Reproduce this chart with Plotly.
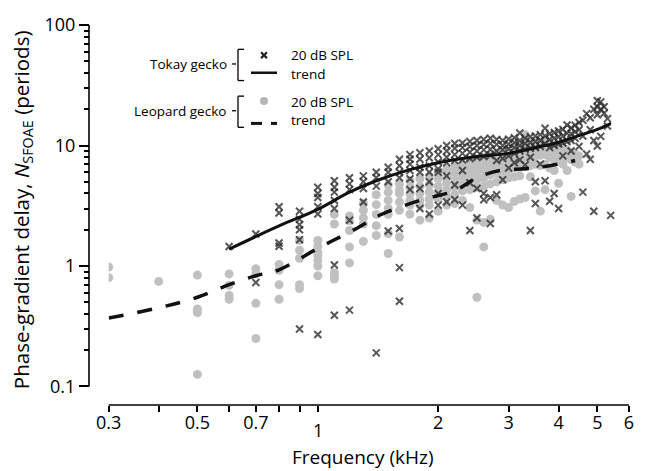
import numpy as np
import plotly.graph_objects as go

# ---------------- data ----------------
tokay_freq = [0.6, 0.7, 0.8, 0.9, 1.0, 1.1, 1.2, 1.3, 1.4, 1.5, 1.6, 1.7, 1.8, 1.9,
              2.0, 2.1, 2.2, 2.3, 2.4, 2.5, 2.6, 2.7, 2.8, 2.9, 3.0, 3.1, 3.2, 3.3,
              3.4, 3.5, 3.6, 3.7, 3.8, 3.9, 4.0, 4.1, 4.2, 4.3, 4.4, 4.5, 4.6, 4.7,
              4.8, 4.9, 5.0, 5.1, 5.2, 5.3, 5.4]
tokay_n = [
    [1.45], [1.84, 0.73], [3.1, 2.75, 1.55, 1.46], [2.85, 2.45, 2.2, 2.0, 1.65, 0.30],
    [4.5, 4.0, 3.7, 3.1, 2.7, 0.27], [5.1, 4.5, 4.1, 3.5, 3.0, 1.02, 0.39],
    [5.4, 4.8, 4.3, 2.4, 0.43], [5.6, 5.0, 4.4, 3.4], [6.0, 5.4, 4.6, 0.19],
    [6.6, 6.0, 5.0, 1.95], [7.7, 6.8, 6.0, 5.4, 2.05, 0.97, 0.51],
    [8.4, 7.7, 7.0, 6.2, 5.3, 4.3], [8.7, 7.7, 6.6, 6.0, 4.4, 3.0],
    [9.0, 7.9, 6.8, 6.0, 5.0, 2.7], [9.4, 8.4, 7.3, 6.4, 6.0, 4.0, 3.2],
    [10.0, 9.0, 8.0, 7.2, 5.6, 3.4], [10.4, 9.5, 8.4, 7.5, 4.7, 3.55],
    [10.5, 9.6, 8.6, 7.6, 6.2, 3.2], [10.8, 9.8, 8.8, 7.8, 4.9, 1.97],
    [11.0, 10.0, 9.0, 8.0, 4.4, 2.5], [11.2, 10.2, 9.2, 8.1, 4.0, 3.55],
    [11.5, 10.4, 9.3, 8.3, 3.7, 2.25], [11.2, 10.2, 9.0, 7.5, 3.9],
    [11.0, 10.0, 9.2, 7.8, 5.2], [11.3, 10.3, 9.4, 8.2, 6.5],
    [11.6, 10.6, 9.6, 8.6, 7.2], [12.7, 11.0, 10.0, 9.0, 7.6],
    [11.5, 10.4, 9.3, 6.9], [11.8, 10.6, 9.5, 8.0, 1.97], [12.0, 10.8, 9.6, 5.0, 3.3],
    [12.3, 11.0, 9.8, 7.0], [13.9, 12.0, 10.4, 5.1], [12.5, 11.2, 9.6, 3.45],
    [12.8, 11.5, 10.0, 4.0], [13.2, 11.8, 10.3, 3.0], [13.6, 12.0, 10.5, 8.2],
    [14.8, 12.6, 10.8], [14.0, 12.5, 11.0, 9.0], [14.7, 13.0, 11.5],
    [15.5, 13.5, 9.8], [16.2, 12.0, 4.1], [18.4, 8.5], [17.0, 13.5, 7.7],
    [20.0, 11.0, 2.85], [23.5, 21.0, 18.0, 9.9], [23.0, 20.0, 11.9],
    [21.0, 18.5], [16.7, 14.5], [2.63]]

leopard_freq = [0.3, 0.4, 0.5, 0.6, 0.7, 0.8, 0.9, 1.0, 1.1, 1.2, 1.3, 1.4, 1.5, 1.6,
                1.7, 1.8, 1.9, 2.0, 2.1, 2.2, 2.3, 2.4, 2.5, 2.6, 2.7, 2.8, 2.9, 3.0,
                3.1, 3.2, 3.3, 3.4, 3.5, 3.6, 3.7, 3.8, 3.9, 4.0, 4.1, 4.2, 4.3, 4.4, 4.5]
leopard_n = [
    [0.98, 0.80], [0.745], [0.84, 0.44, 0.41, 0.126], [0.86, 0.69, 0.57, 0.53],
    [0.95, 0.86, 0.49, 0.25], [1.03, 0.92, 0.70, 0.53], [1.63, 1.35, 1.16, 0.70, 0.65],
    [1.63, 1.45, 1.3, 1.23, 1.12, 1.0, 0.83], [2.68, 2.23, 0.88, 0.83, 0.78],
    [2.6, 2.37, 1.97, 1.44, 1.06], [3.3, 2.9, 2.5, 2.23, 1.6],
    [3.9, 3.23, 2.68, 2.16, 1.79], [4.7, 4.1, 3.5, 3.0, 2.68, 1.85, 1.27],
    [4.8, 4.3, 4.0, 3.4, 2.9, 1.74], [5.1, 4.5, 4.0, 3.5, 3.2, 2.7],
    [5.3, 4.6, 4.0, 3.5, 3.2, 2.4], [5.6, 4.7, 4.1, 3.6, 3.2, 2.5],
    [6.0, 5.3, 4.6, 4.0, 3.65, 2.85], [6.3, 5.6, 4.9, 4.3, 3.8, 3.2],
    [6.6, 5.9, 5.2, 4.5, 3.9, 3.3], [7.0, 6.2, 5.5, 4.8, 4.2, 3.5],
    [7.3, 6.5, 5.7, 5.0, 4.3, 3.06], [7.6, 6.8, 6.0, 5.2, 4.5, 2.4, 0.55],
    [8.0, 7.2, 6.3, 5.4, 4.6, 2.3, 1.44], [8.3, 7.5, 6.6, 5.7, 4.8, 2.44],
    [8.6, 7.8, 6.8, 5.9, 5.0, 3.5], [9.0, 8.0, 7.0, 6.1, 5.2, 3.2],
    [9.3, 8.3, 7.3, 6.3, 5.4, 3.06], [9.6, 8.6, 7.5, 6.5, 5.5, 3.43],
    [10.0, 8.8, 7.7, 6.6, 5.6, 3.6], [12.3, 10.2, 9.0, 7.8, 6.7, 3.7],
    [10.5, 9.2, 8.0, 6.8, 5.5], [10.7, 9.4, 8.2, 7.0, 4.2], [10.8, 9.5, 8.3, 6.8, 2.85],
    [11.0, 9.6, 8.4, 7.0, 4.3], [10.4, 9.2, 8.0, 6.5], [10.0, 8.8, 7.6, 6.2],
    [9.8, 8.6, 7.4, 4.86], [9.5, 8.3, 7.0], [9.2, 8.0, 6.2], [8.8, 7.6, 3.78],
    [8.5, 7.3], [8.2, 7.0]]

tokay_trend_f = [0.6, 0.8, 1.0, 1.2, 1.4, 1.7, 2.0, 2.5, 3.0, 3.6, 4.0, 4.4, 5.0, 5.4]
tokay_trend_n = [1.38, 2.15, 2.95, 4.1, 5.1, 6.3, 7.2, 8.1, 8.6, 9.8, 10.6, 11.8, 13.6, 15.2]
leopard_trend_f = [0.3, 0.4, 0.5, 0.6, 0.7, 0.8, 1.0, 1.25, 1.45, 1.8, 2.0, 2.2, 2.5,
                   2.85, 3.3, 3.8, 4.4]
leopard_trend_n = [0.37, 0.45, 0.55, 0.70, 0.83, 0.93, 1.4, 2.05, 2.7, 3.5, 3.85, 4.2,
                   5.4, 6.2, 6.4, 6.8, 7.5]

x_tickvals = [0.3, 0.5, 0.7, 2, 3, 4, 5, 6]
x_ticktext = ["0.3", "0.5", "0.7", "2", "3", "4", "5", "6"]
x_minor = [0.4, 0.6, 0.8, 0.9, 1]
y_tickvals = [0.1, 1, 10, 100]
y_ticktext = ["0.1", "1", "10", "100"]
y_minor = [m * d for d in (0.1, 1, 10) for m in range(2, 10)]

# ---------------- figure ----------------
FONT = "Open Sans"
W, H = 651, 471
L, R, T, B = 89, 22, 15, 66


def px2x(px):
    return (px - L) / (W - L - R)


def py2y(py):
    return (H - B - py) / (H - T - B)


tf = [f for f, col in zip(tokay_freq, tokay_n) for _ in col]
tn = [v for col in tokay_n for v in col]
lf = [f for f, col in zip(leopard_freq, leopard_n) for _ in col]
ln = [v for col in leopard_n for v in col]

fig = go.Figure()
fig.add_trace(go.Scatter(x=lf, y=ln, mode="markers",
                         marker=dict(symbol="circle", size=9, color="#c0c0c0"),
                         showlegend=False))
fig.add_trace(go.Scatter(x=tf, y=tn, mode="markers",
                         marker=dict(symbol="x-thin", size=7,
                                     line=dict(width=2, color="rgba(45,45,45,0.8)")),
                         showlegend=False))
fig.add_trace(go.Scatter(x=tokay_trend_f, y=tokay_trend_n, mode="lines",
                         line=dict(color="#111", width=3, shape="spline"),
                         showlegend=False))
fig.add_trace(go.Scatter(x=leopard_trend_f, y=leopard_trend_n, mode="lines",
                         line=dict(color="#111", width=3.5, shape="spline",
                                   dash="15px,14px"),
                         showlegend=False))

axis_common = dict(type="log", showgrid=False, zeroline=False, showline=False,
                   ticks="outside", tickcolor="black", tickwidth=1.5,
                   tickfont=dict(family=FONT, size=18, color="black"))
fig.update_layout(
    width=W, height=H,
    margin=dict(l=L, r=R, t=T, b=B),
    paper_bgcolor="white", plot_bgcolor="white",
    xaxis=dict(**axis_common, range=[np.log10(0.3), np.log10(6)],
               domain=[px2x(108.7), 1], anchor="free", position=0,
               tickvals=x_tickvals, ticktext=x_ticktext, ticklen=6,
               ticklabelstandoff=-5,
               minor=dict(ticks="outside", ticklen=6, tickvals=x_minor,
                          tickcolor="black", tickwidth=1.5)),
    yaxis=dict(**axis_common, range=[-1, 2], domain=[py2y(386), 1],
               anchor="free", position=0,
               tickvals=y_tickvals, ticktext=y_ticktext, ticklen=10,
               minor=dict(ticks="outside", ticklen=5, tickvals=y_minor,
                          tickcolor="black", tickwidth=1.5)),
)

ann = []
ann.append(dict(text="1", x=px2x(318), y=py2y(431), xref="paper", yref="paper",
                showarrow=False, font=dict(family=FONT, size=18, color="black"),
                xanchor="center", yanchor="middle"))
ann.append(dict(text="Frequency (kHz)", x=px2x(363), y=py2y(458), xref="paper",
                yref="paper", showarrow=False,
                font=dict(family=FONT, size=19, color="black"),
                xanchor="center", yanchor="middle"))
ann.append(dict(text="Phase-gradient delay, <i>N</i><sub>SFOAE</sub> (periods)",
                x=px2x(22), y=py2y(205), xref="paper", yref="paper",
                showarrow=False, textangle=-90,
                font=dict(family=FONT, size=20.5, color="black"),
                xanchor="center", yanchor="middle"))
leg_font = dict(family=FONT, size=13.5, color="black")
for txt, px, py, xa in [("Tokay gecko", 229, 55, "right"),
                        ("Leopard gecko", 228, 103, "right"),
                        ("20 dB SPL", 289, 46, "left"),
                        ("trend", 289, 65, "left"),
                        ("20 dB SPL", 289, 94, "left"),
                        ("trend", 289, 113, "left")]:
    ann.append(dict(text=txt, x=px2x(px), y=py2y(py), xref="paper", yref="paper",
                    showarrow=False, font=leg_font, xanchor=xa, yanchor="middle"))
fig.update_layout(annotations=ann)

shapes = []


def seg(x0, y0, x1, y1, w=1.3, color="black"):
    shapes.append(dict(type="line", xref="paper", yref="paper",
                       x0=px2x(x0), y0=py2y(y0), x1=px2x(x1), y1=py2y(y1),
                       line=dict(color=color, width=w)))


# axis lines (offset, Igor style)
seg(89, 15, 89, 386, w=1.6)
seg(108.7, 405, W - R, 405, w=1.6)
# legend brackets
for yc, ytop, ybot in [(55, 40, 72), (103, 88, 120)]:
    seg(232, yc, 236, yc)
    seg(238, ytop, 238, ybot)
    seg(238, ytop, 244, ytop)
    seg(238, ybot, 244, ybot)
# legend marks
seg(261, 43, 267, 49, w=2.2, color="#222")
seg(261, 49, 267, 43, w=2.2, color="#222")
seg(251, 64, 277, 64, w=2.5, color="#111")
shapes.append(dict(type="circle", xref="paper", yref="paper",
                   x0=px2x(260), y0=py2y(89), x1=px2x(268), y1=py2y(97),
                   fillcolor="#b5b5b5", line=dict(width=0)))
seg(251, 116, 262, 116, w=3, color="#111")
seg(271, 116, 277, 116, w=3, color="#111")
fig.update_layout(shapes=shapes)

fig.write_html("out.html", config={"displayModeBar": False},
               post_script="document.body.style.margin='0';"
                           "document.body.style.overflow='hidden';")
